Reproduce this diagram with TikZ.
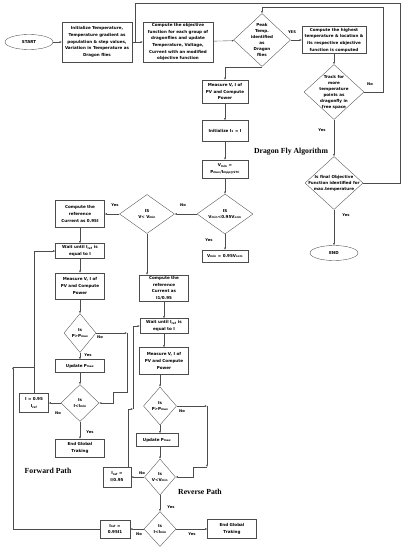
\documentclass[tikz,border=0pt]{standalone}
\usepackage{fontspec}
\setsansfont{DejaVu Sans}
\newfontfamily\titlefont{Liberation Serif}
\usepackage{tikz}
\usetikzlibrary{shapes.geometric, arrows.meta, positioning, calc}
\newcommand{\sbs}[1]{\textsubscript{#1}}

\begin{document}
\begin{tikzpicture}[
  x=0.5mm, y=-0.5mm,
  every node/.style={font=\sffamily\bfseries\fontsize{5.8}{9.5}\selectfont},
  procbox/.style={rectangle, draw=black!70, line width=0.5pt, align=center, inner sep=0.5pt},
  termbox/.style={ellipse, draw=black!70, line width=0.5pt, inner sep=1pt},
  decide/.style={diamond, draw=black!70, line width=0.5pt, inner sep=0pt},
  dlabel/.style={align=center, inner sep=0pt, font=\sffamily\bfseries\fontsize{5.8}{8.5}\selectfont},
  ynlabel/.style={inner sep=1pt, font=\sffamily\bfseries\fontsize{5.3}{6}\selectfont},
  pathlabel/.style={font=\titlefont\bfseries\fontsize{11}{13}\selectfont},
  flow/.style={draw=black!70, line width=0.5pt, -{Latex[length=3pt,width=2.6pt]}},
  link/.style={draw=black!70, line width=0.5pt}
]
  \useasboundingbox (0,0) rectangle (405,550);

  % Dragon fly part
  \node[termbox, minimum width=24mm, minimum height=7.5mm] (start) at (29,42) {START};
  \node[procbox, minimum width=35mm, minimum height=20mm] (init) at (97,42) {Initialize Temperature,\\Temperature gradient as\\population \& step values,\\Variation in Temperature as\\Dragon flies};
  \node[procbox, minimum width=35mm, minimum height=20mm] (objf) at (178,42) {Compute the objective\\function for each group of\\dragonflies and update\\Temperature, Voltage,\\Current with an modified\\objective function};
  \node[decide, minimum width=28.5mm, minimum height=26.5mm] (peak) at (262,40) {};
  \node[dlabel] at (peak) {Peak\\Temp.\\identified\\as\\Dragon\\flies};
  \node[procbox, minimum width=32mm, minimum height=13.5mm] (high) at (334,40) {Compute the highest\\temperature \& location \&\\its respective objective\\function is computed};
  \node[decide, minimum width=30mm, minimum height=27.5mm] (track) at (334,92) {};
  \node[dlabel] at (track) {Track for\\more\\temperature\\points as\\dragonfly in\\free space};
  \node[decide, minimum width=29mm, minimum height=26.5mm] (final) at (334,183) {};
  \node[dlabel] at (final) {Is final Objective\\Function identified for\\max.temperature};
  \node[termbox, minimum width=24mm, minimum height=7.5mm] (stop) at (334,253) {END};
  \node[pathlabel] (dfa) at (291,152) {Dragon Fly Algorithm};
  \coordinate (jn) at (135,42);

  \draw[flow] (start) -- (init);
  \draw[flow] (init) -- (objf);
  \draw[flow] (objf) -- (peak);
  \draw[flow] (peak) -- (high);
  \draw[flow] (high) -- (track);
  \draw[flow] (track) -- (final);
  \draw[flow] (final) -- (stop);
  \draw[flow] (track.east) -| (383,7) -| (peak.north);
  \draw[link] (final.east) -| (400,3) -| (jn);
  \node[ynlabel] at (292,32) {YES};
  \node[ynlabel] at (370,84) {No};
  \node[ynlabel] at (322,130) {Yes};
  \node[ynlabel] at (346,215) {Yes};

  % PV part
  \node[procbox, minimum width=23mm, minimum height=11.5mm] (meas1) at (225,91.5) {Measure V, I of\\PV and Compute\\Power};
  \node[procbox, minimum width=23mm, minimum height=10.5mm] (initI) at (225,131) {Initialize I\sbs{1} = I};
  \node[procbox, minimum width=23mm, minimum height=9mm] (vmin) at (225,169) {V\sbs{min} =\\P\sbs{max}/I\sbs{mpp@STC}};
  \node[decide, minimum width=28mm, minimum height=20mm] (vchk) at (225,214) {};
  \node[dlabel] at (vchk) {IS\\V\sbs{min}<0.95V\sbs{ocm}};
  \node[procbox, minimum width=23mm, minimum height=6mm] (vset) at (225,256) {V\sbs{min} = 0.95V\sbs{ocm}};
  \node[decide, minimum width=27.5mm, minimum height=19.5mm] (vlt) at (147,214) {};
  \node[dlabel] at (vlt) {IS\\V< V\sbs{min}};

  \draw[flow] (peak.south) -| (meas1.north);
  \draw[flow] (meas1) -- (initI);
  \draw[flow] (initI) -- (vmin);
  \draw[flow] (vmin) -- (vchk);
  \draw[flow] (vchk) -- (vset);
  \draw[flow] (vchk) -- (vlt);
  \node[ynlabel] at (209,240) {Yes};
  \node[ynlabel] at (183,205) {No};

  % Forward path
  \node[procbox, minimum width=24.5mm, minimum height=13.5mm] (ref1) at (80,214) {Compute the\\reference\\Current as 0.95I};
  \node[procbox, minimum width=24.5mm, minimum height=7.5mm] (wait1) at (80,251) {Wait until I\sbs{ref} is\\equal to I};
  \node[procbox, minimum width=24.5mm, minimum height=13mm] (meas2) at (80,286) {Measure V, I of\\PV and Compute\\Power};
  \node[decide, minimum width=16mm, minimum height=19.5mm] (pchk1) at (80,333) {};
  \node[dlabel] at (pchk1) {Is\\P>P\sbs{max}};
  \node[procbox, minimum width=24.5mm, minimum height=6.5mm] (upd1) at (80,366) {Update P\sbs{max}};
  \node[decide, minimum width=19mm, minimum height=18.5mm] (ichk1) at (80,403) {};
  \node[dlabel] at (ichk1) {Is\\I<I\sbs{min}};
  \node[procbox, minimum width=14.5mm, minimum height=9.5mm] (iset1) at (34,403) {I = 0.95\\I\sbs{ref}};
  \node[procbox, minimum width=24.5mm, minimum height=9mm] (end1) at (80,448) {End Global\\Traking};
  \node[pathlabel] (fwd) at (48,471) {Forward Path};
  \coordinate (fa) at (127,333);
  \coordinate (fb) at (113,392);

  \draw[flow] (vlt) -- (ref1);
  \draw[flow] (ref1) -- (wait1);
  \draw[flow] (wait1) -- (meas2);
  \draw[flow] (meas2) -- (pchk1);
  \draw[flow] (pchk1) -- (upd1);
  \draw[flow] (upd1) -- (ichk1);
  \draw[flow] (ichk1) -- (end1);
  \draw[flow] (ichk1) -- (iset1);
  \draw[flow] (iset1.north) |- (wait1.west);
  \draw[flow] (pchk1) -- (fa);
  \draw[flow] (fa) |- (fb) |- (ichk1.east);
  \node[ynlabel] at (115,205) {Yes};
  \node[ynlabel] at (100,337) {No};
  \node[ynlabel] at (88,355) {Yes};
  \node[ynlabel] at (58,413) {No};
  \node[ynlabel] at (90,432) {Yes};

  % Reverse path
  \node[procbox, minimum width=24.5mm, minimum height=13mm] (ref2) at (164,288) {Compute the\\reference\\Current as\\I1/0.95};
  \node[procbox, minimum width=24mm, minimum height=7.5mm] (wait2) at (164,326) {Wait until I\sbs{ref} is\\equal to I};
  \node[procbox, minimum width=24.5mm, minimum height=13.5mm] (meas3) at (164,361) {Measure V, I of\\PV and Compute\\Power};
  \node[decide, minimum width=16.5mm, minimum height=19mm] (pchk2) at (160,406) {};
  \node[dlabel] at (pchk2) {Is\\P>P\sbs{max}};
  \node[procbox, minimum width=21mm, minimum height=6.5mm] (upd2) at (157,440) {Update P\sbs{max}};
  \node[decide, minimum width=15.5mm, minimum height=18mm] (vchk2) at (160,477) {};
  \node[dlabel] at (vchk2) {Is\\V<V\sbs{min}};
  \node[procbox, minimum width=14mm, minimum height=10mm] (iset2) at (117,477) {I\sbs{ref} =\\I/0.95};
  \node[pathlabel] (rev) at (200,492) {Reverse Path};
  \node[decide, minimum width=16mm, minimum height=17.5mm] (ichk2) at (160,529) {};
  \node[dlabel] at (ichk2) {Is\\I<I\sbs{min}};
  \node[procbox, minimum width=15mm, minimum height=9mm] (iset3) at (115,529) {I\sbs{ref} =\\0.95I1};
  \node[procbox, minimum width=24.5mm, minimum height=9.5mm] (end2) at (232,529) {End Global\\Traking};
  \coordinate (ra) at (207,406);
  \coordinate (rc) at (207,467);
  \coordinate (rb) at (193,477);
  \coordinate (rk) at (128,409);
  \coordinate (rl) at (133,409);
  \coordinate (lp) at (13,367);

  \draw[flow] (vlt.south) -- (vlt.south |- ref2.north);
  \draw[flow] (ref2) -- (wait2);
  \draw[flow] (wait2) -- (meas3);
  \draw[flow] (pchk2.north |- meas3.south) -- (pchk2.north);
  \draw[flow] (pchk2.south) -- (pchk2.south |- upd2.north);
  \draw[flow] (vchk2.north |- upd2.south) -- (vchk2.north);
  \draw[flow] (vchk2) -- (ichk2);
  \draw[flow] (pchk2) -- (ra);
  \draw[flow] (ra) -- (rc);
  \draw[flow] (rc) -| (rb) -- (vchk2.east);
  \draw[flow] (vchk2) -- (iset2);
  \draw[flow] (rk |- iset2.north) -- (rk) -- (rl);
  \draw[flow] (rl) |- (wait2.west);
  \draw[flow] (ichk2) -- (iset3);
  \draw[flow] (ichk2) -- (end2);
  \draw[flow] (iset3.west) -| (lp);
  \draw[link] (lp) -- (iset1.north |- lp);
  \node[ynlabel] at (182,411) {No};
  \node[ynlabel] at (142,473) {No};
  \node[ynlabel] at (171,507) {Yes};
  \node[ynlabel] at (139,534) {No};
  \node[ynlabel] at (192,534) {Yes};
\end{tikzpicture}
\end{document}
